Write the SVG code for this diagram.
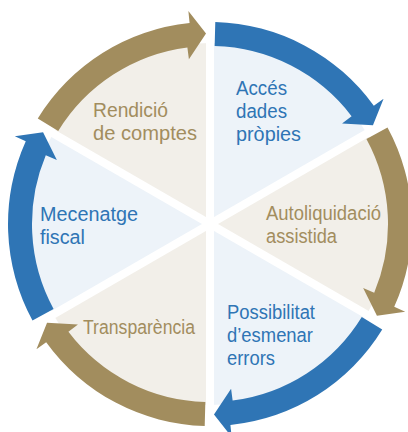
<svg xmlns="http://www.w3.org/2000/svg" xmlns:xlink="http://www.w3.org/1999/xlink" width="408" height="432" viewBox="0 0 408 432">
<style>
.lb{fill:#edf3f9}
.bg{fill:#f2efe9}
.blue{fill:#2f75b5}
.gold{fill:#a28d5e}
.gap{stroke:#ffffff;stroke-width:8}
text{font-family:"Liberation Sans",Arial,sans-serif;font-size:20px}
.tb{fill:#2f75b5}
.tg{fill:#a28d5e}
</style>
<defs>
<path id="sector" d="M210,224 L210,43 A181,181 0 0 1 366.75,133.5 Z"/>
<path id="arrow" d="M215.29,22.07 A202,202 0 0 1 373.83,105.84 L383.57,98.82 L372.95,125.32 L342.05,123.41 L351.59,116.13 A178,178 0 0 0 214.66,46.06 Z"/>
</defs>
<rect width="408" height="432" fill="#ffffff"/>
<g id="sectors">
<use xlink:href="#sector" class="lb"/>
<use xlink:href="#sector" class="bg" transform="rotate(60 210 224)"/>
<use xlink:href="#sector" class="lb" transform="rotate(120 210 224)"/>
<use xlink:href="#sector" class="bg" transform="rotate(180 210 224)"/>
<use xlink:href="#sector" class="lb" transform="rotate(240 210 224)"/>
<use xlink:href="#sector" class="bg" transform="rotate(300 210 224)"/>
<line class="gap" x1="210" y1="38" x2="210" y2="410"/>
<line class="gap" x1="210" y1="38" x2="210" y2="410" transform="rotate(60 210 224)"/>
<line class="gap" x1="210" y1="38" x2="210" y2="410" transform="rotate(120 210 224)"/>
</g>
<g id="connectors">
<use xlink:href="#arrow" class="blue"/>
<use xlink:href="#arrow" class="gold" transform="rotate(60 210 224)"/>
<use xlink:href="#arrow" class="blue" transform="rotate(120 210 224)"/>
<use xlink:href="#arrow" class="gold" transform="rotate(180 210 224)"/>
<use xlink:href="#arrow" class="blue" transform="rotate(240 210 224)"/>
<use xlink:href="#arrow" class="gold" transform="rotate(300 210 224)"/>
</g>
<g id="acces">
<text class="tb" x="236" y="95" textLength="51" lengthAdjust="spacingAndGlyphs">Accés</text>
<text class="tb" x="236" y="118" textLength="51" lengthAdjust="spacingAndGlyphs">dades</text>
<text class="tb" x="236" y="141" textLength="65" lengthAdjust="spacingAndGlyphs">pròpies</text>
</g>
<g id="autoliquidacio">
<text class="tg" x="266" y="220" textLength="115" lengthAdjust="spacingAndGlyphs">Autoliquidació</text>
<text class="tg" x="266" y="243" textLength="71" lengthAdjust="spacingAndGlyphs">assistida</text>
</g>
<g id="possibilitat">
<text class="tb" x="227" y="318.5" textLength="88" lengthAdjust="spacingAndGlyphs">Possibilitat</text>
<text class="tb" x="227" y="341.5" textLength="86" lengthAdjust="spacingAndGlyphs">d’esmenar</text>
<text class="tb" x="227" y="364.5" textLength="48" lengthAdjust="spacingAndGlyphs">errors</text>
</g>
<g id="transparencia">
<text class="tg" x="83" y="334" textLength="112" lengthAdjust="spacingAndGlyphs">Transparència</text>
</g>
<g id="mecenatge">
<text class="tb" x="40" y="221" textLength="98" lengthAdjust="spacingAndGlyphs">Mecenatge</text>
<text class="tb" x="40" y="244" textLength="45" lengthAdjust="spacingAndGlyphs">fiscal</text>
</g>
<g id="rendicio">
<text class="tg" x="93" y="116.5" textLength="75" lengthAdjust="spacingAndGlyphs">Rendició</text>
<text class="tg" x="93" y="139.5" textLength="104" lengthAdjust="spacingAndGlyphs">de comptes</text>
</g>
</svg>
